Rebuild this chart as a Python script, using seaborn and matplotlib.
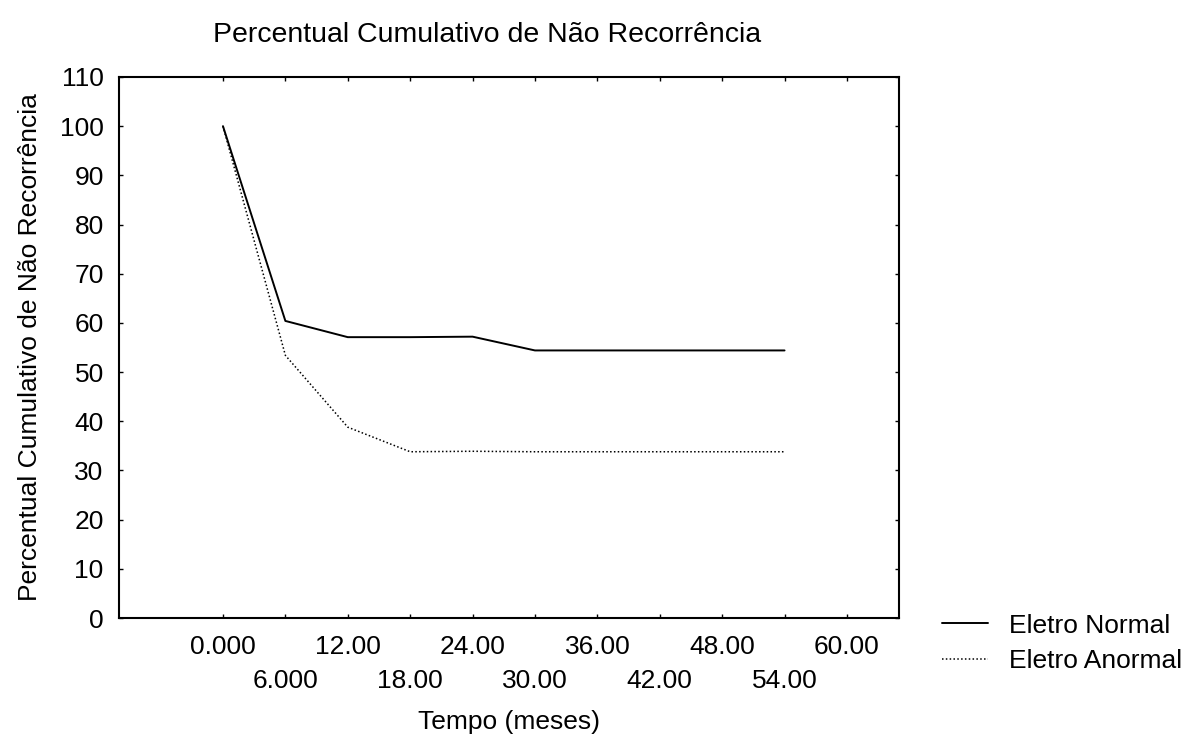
import numpy as np
import pandas as pd
import matplotlib
matplotlib.use('Agg')
import matplotlib.pyplot as plt
import seaborn as sns

# data
tempo_normal = [0, 6, 12, 18, 24, 30, 36, 42, 48, 54]
perc_normal = [100, 60.4, 57.1, 57.1, 57.2, 54.4, 54.4, 54.4, 54.4, 54.4]
tempo_anormal = [0, 6, 12, 18, 24, 30, 36, 42, 48, 54]
perc_anormal = [100, 53.4, 38.8, 33.8, 33.9, 33.8, 33.8, 33.8, 33.8, 33.8]

series_names = ['Eletro Normal', 'Eletro Anormal']
major_ticks = [0, 12, 24, 36, 48, 60]
minor_ticks = [6, 18, 30, 42, 54]
major_labels = ['0.000', '12.00', '24.00', '36.00', '48.00', '60.00']
minor_labels = ['6.000', '18.00', '30.00', '42.00', '54.00']

df = pd.concat([
    pd.DataFrame({'Tempo': tempo_normal, 'Perc': perc_normal, 'Serie': series_names[0]}),
    pd.DataFrame({'Tempo': tempo_anormal, 'Perc': perc_anormal, 'Serie': series_names[1]}),
])

sns.set_style('ticks')
plt.rcParams['font.family'] = ['Liberation Sans', 'DejaVu Sans']
for k in ['text.color', 'axes.labelcolor', 'xtick.color', 'ytick.color']:
    plt.rcParams[k] = 'black'

fs = 19

fig = plt.figure(figsize=(11.97, 7.38), dpi=100)
ax = fig.add_axes([0.0994, 0.1626, 0.6516, 0.7331])

sns.lineplot(data=df, x='Tempo', y='Perc', hue='Serie', style='Serie',
             palette=['black', 'black'], dashes=[(None, None), (1, 1.5)],
             legend=False, ax=ax, linewidth=1.4)
ax.lines[1].set_linewidth(1.1)

ax.set_xlim(-10, 65)
ax.set_ylim(0, 110)
ax.set_yticks(np.arange(0, 111, 10))
ax.set_xticks(major_ticks)
ax.set_xticklabels(major_labels)
ax.set_xticks(minor_ticks, minor=True)
ax.set_xticklabels(minor_labels, minor=True)

for s in ax.spines.values():
    s.set_visible(True)
    s.set_linewidth(1.5)
    s.set_color('black')

ax.tick_params(axis='both', which='major', direction='in', length=3, width=1,
               labelsize=fs, top=True, right=True, colors='black')
ax.tick_params(axis='x', which='major', pad=12)
ax.tick_params(axis='x', which='minor', direction='in', length=3, width=1,
               labelsize=fs, top=True, pad=37, colors='black')
ax.tick_params(axis='y', which='major', pad=11)

ax.set_xlabel('Tempo (meses)', fontsize=fs, labelpad=12)
ax.set_ylabel('Percentual Cumulativo de Não Recorrência', fontsize=fs, labelpad=13)
ax.set_title('Percentual Cumulativo de Não Recorrência', fontsize=20.5, pad=25, x=0.472)

handles = [plt.Line2D([], [], color='black', lw=1.4),
           plt.Line2D([], [], color='black', lw=1.1, ls=(0, (1, 1.5)))]
fig.legend(handles, series_names, loc='center left', bbox_to_anchor=(0.767, 0.128),
           frameon=False, fontsize=fs, handlelength=1.75, handletextpad=0.8,
           labelspacing=0.45)

fig.savefig('out.png', dpi=100, facecolor='white')
